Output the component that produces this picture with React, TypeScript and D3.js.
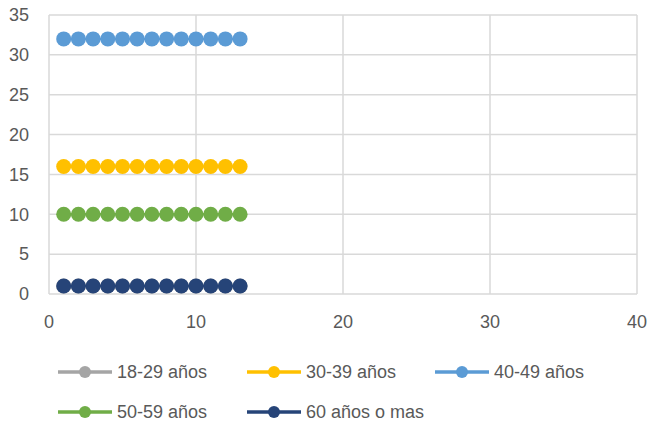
import React from "react";
import * as d3 from "d3";

const xValues = [1, 2, 3, 4, 5, 6, 7, 8, 9, 10, 11, 12, 13];
const seriesNames = ["18-29 años", "30-39 años", "40-49 años", "50-59 años", "60 años o mas"];
const seriesColors = ["#A5A5A5", "#FFC000", "#5B9BD5", "#70AD47", "#264478"];
const s1829 = [1, 1, 1, 1, 1, 1, 1, 1, 1, 1, 1, 1, 1];
const s3039 = [16, 16, 16, 16, 16, 16, 16, 16, 16, 16, 16, 16, 16];
const s4049 = [32, 32, 32, 32, 32, 32, 32, 32, 32, 32, 32, 32, 32];
const s5059 = [10, 10, 10, 10, 10, 10, 10, 10, 10, 10, 10, 10, 10];
const s60 = [1, 1, 1, 1, 1, 1, 1, 1, 1, 1, 1, 1, 1];
const allSeries = [s1829, s3039, s4049, s5059, s60];
const xTicks = [0, 10, 20, 30, 40];
const yTicks = [0, 5, 10, 15, 20, 25, 30, 35];

export default function App() {
  const W = 650, H = 426;
  const left = 49, right = 637, top = 15, bottom = 294;
  const x = d3.scaleLinear().domain([0, 40]).range([left, right]);
  const y = d3.scaleLinear().domain([0, 35]).range([bottom, top]);
  const line = d3.line<number>().x((_, i) => x(xValues[i])).y((d) => y(d));
  const font = "Liberation Sans, Arial, sans-serif";
  const textColor = "#595959";
  const grid = "#D9D9D9";
  const legendItems = [
    { i: 0, lx: 58, ly: 372 },
    { i: 1, lx: 247, ly: 372 },
    { i: 2, lx: 435, ly: 372 },
    { i: 3, lx: 58, ly: 412 },
    { i: 4, lx: 247, ly: 412 },
  ];
  return (
    <svg width={W} height={H} style={{ position: "absolute", left: 0, top: 0 }}>
      <rect width={W} height={H} fill="#fff" />
      {yTicks.map((t) => (
        <line key={"gy" + t} x1={left} x2={right} y1={y(t)} y2={y(t)} stroke={grid} strokeWidth={1.5} />
      ))}
      {xTicks.map((t) => (
        <line key={"gx" + t} x1={x(t)} x2={x(t)} y1={top} y2={bottom} stroke={grid} strokeWidth={1.5} />
      ))}
      {yTicks.map((t) => (
        <text key={"ty" + t} x={29} y={y(t)} dy="0.35em" textAnchor="end" fontFamily={font} fontSize={18} fill={textColor}>
          {t}
        </text>
      ))}
      {xTicks.map((t) => (
        <text key={"tx" + t} x={x(t)} y={322} dy="0.35em" textAnchor="middle" fontFamily={font} fontSize={18} fill={textColor}>
          {t}
        </text>
      ))}
      {allSeries.map((s, si) => (
        <g key={"s" + si}>
          <path d={line(s) || ""} fill="none" stroke={seriesColors[si]} strokeWidth={2.5} />
          {s.map((v, i) => (
            <circle key={i} cx={x(xValues[i])} cy={y(v)} r={7.5} fill={seriesColors[si]} />
          ))}
        </g>
      ))}
      {legendItems.map(({ i, lx, ly }) => (
        <g key={"l" + i}>
          <line x1={lx} x2={lx + 54} y1={ly} y2={ly} stroke={seriesColors[i]} strokeWidth={3.5} />
          <circle cx={lx + 27} cy={ly} r={6} fill={seriesColors[i]} />
          <text x={lx + 59} y={ly} dy="0.35em" fontFamily={font} fontSize={18} fill={textColor}>
            {seriesNames[i]}
          </text>
        </g>
      ))}
    </svg>
  );
}
